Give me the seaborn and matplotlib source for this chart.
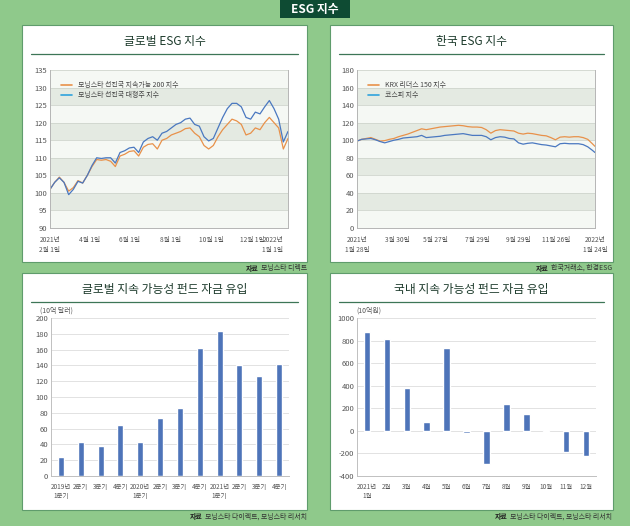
import pandas as pd
import matplotlib.pyplot as plt
from matplotlib.patches import Rectangle
from matplotlib.lines import Line2D
import seaborn as sns

W, H = 630, 526
GREEN = '#8fc98b'
DARK = '#0e4b33'
ORANGE = '#e8914a'
BLUE = '#4a78c0'
BAR = '#4e74b9'

# ---- data: global ESG index (weekly readings) ----
gl_dates = pd.date_range('2021-02-01', periods=52, freq='7D')
gl_sustain = [101.0, 103.0, 104.5, 103.0, 100.5, 101.5, 103.5, 102.8, 105.0, 107.5,
              109.5, 109.3, 109.5, 109.0, 107.5, 110.5, 111.0, 111.8, 112.0, 110.5,
              113.0, 113.8, 114.0, 112.5, 115.0, 115.5, 116.5, 117.0, 117.5, 118.3,
              118.5, 117.0, 116.0, 113.5, 112.5, 113.5, 116.0, 118.0, 119.5, 121.0,
              120.5, 119.5, 116.5, 117.0, 118.5, 118.0, 120.0, 121.5, 120.0, 118.5,
              112.5, 115.5]
gl_large = [101.0, 103.0, 104.3, 103.0, 99.5, 101.0, 103.3, 102.8, 105.0, 107.8,
            110.0, 109.8, 110.0, 110.0, 108.5, 111.5, 112.0, 112.8, 113.0, 111.5,
            114.5, 115.5, 116.0, 115.0, 117.0, 117.5, 118.5, 119.5, 120.0, 121.0,
            121.3, 119.5, 119.0, 116.0, 114.8, 115.5, 118.5, 121.5, 124.0, 125.5,
            125.5, 124.5, 121.5, 121.0, 123.0, 122.5, 124.5, 126.3, 124.0, 121.0,
            114.5, 117.5]
gl_names = ['모닝스타 선진국 지속가능 200 지수', '모닝스타 선진국 대형주 지수']

# ---- data: Korea ESG index ----
kr_dates = list(pd.date_range('2021-01-28', periods=52, freq='7D')) + [pd.Timestamp('2022-01-24')]
kr_leaders = [99, 101, 102, 103, 101, 99, 99.5, 101, 102, 104,
              105.5, 107, 109, 111, 113, 112, 113, 114, 115, 115.5,
              116, 116.5, 117, 116.5, 115.5, 115, 115, 114.5, 112, 108,
              111, 112, 111.5, 111, 110.5, 108, 107, 108, 107.5, 106.5,
              105.5, 105, 103, 100.5, 103.5, 104, 103.5, 104, 104, 103,
              101, 96, 93]
kr_kospi = [99, 101, 101.5, 102, 100.5, 98.5, 97, 98.5, 100, 101,
            102.5, 103, 103.5, 104, 105.5, 103, 103.5, 104, 104.5, 105.5,
            106, 106.5, 107, 107.5, 106.5, 105.5, 105.5, 105.5, 104, 100.5,
            103, 104, 103.5, 102, 101.5, 97, 95.5, 96.5, 97, 96,
            95, 94.5, 93.5, 92.5, 96, 96.5, 96, 96, 96, 95,
            92.5, 88.5, 86]
kr_names = ['KRX 리더스 150 지수', '코스피 지수']

# ---- data: fund flows ----
q_labels = ['2019년\n1분기', '2분기', '3분기', '4분기', '2020년\n1분기', '2분기',
            '3분기', '4분기', '2021년\n1분기', '2분기', '3분기', '4분기']
q_flows = [24, 43, 37.5, 64.5, 43, 73.5, 86.5, 162, 183, 141, 127, 142]
m_labels = ['2021년\n1월', '2월', '3월', '4월', '5월', '6월', '7월', '8월', '9월',
            '10월', '11월', '12월']
m_flows = [875, 815, 380, 80, 730, -20, -290, 235, 150, 5, -190, -225]

sns.set_theme(style='white')
plt.rcParams['font.family'] = ['Noto Sans CJK KR', 'DejaVu Sans']
plt.rcParams['axes.unicode_minus'] = False

fig = plt.figure(figsize=(W / 100, H / 100), dpi=100, facecolor=GREEN)


def rect(x0, y0, x1, y1):
    return [x0 / W, 1 - y1 / H, (x1 - x0) / W, (y1 - y0) / H]


def ftext(x, y, s, **kw):
    return fig.text(x / W, 1 - y / H, s, **kw)


# title box
fig.patches.append(Rectangle((280 / W, 1 - 18 / H), 70 / W, 18 / H, transform=fig.transFigure,
                             facecolor=DARK, edgecolor='none', zorder=-1))
ftext(315, 9.5, 'ESG 지수', ha='center', va='center', color='white', fontsize=8.5, weight='bold')

# panels
panels = [(22, 25, 307, 262, '글로벌 ESG 지수'),
          (330, 25, 613, 262, '한국 ESG 지수'),
          (22, 273, 307, 510, '글로벌 지속 가능성 펀드 자금 유입'),
          (330, 273, 613, 510, '국내 지속 가능성 펀드 자금 유입')]
for x0, y0, x1, y1, title in panels:
    fig.patches.append(Rectangle((x0 / W, 1 - y1 / H), (x1 - x0) / W, (y1 - y0) / H,
                                 transform=fig.transFigure, facecolor='white',
                                 edgecolor='#5f9c6c', linewidth=0.8, zorder=-1))
    ftext((x0 + x1) / 2, y0 + 16, title, ha='center', va='center', fontsize=8.5,
          color='#1c3a2b', weight='medium')
    fig.lines.append(Line2D([(x0 + 9) / W, (x1 - 9) / W], [1 - (y0 + 29) / H] * 2,
                            transform=fig.transFigure, color='#3d7657', linewidth=0.9))


def style_line_axes(ax, lo, hi, step):
    ax.set_facecolor('#f5f8f4')
    for i, v in enumerate(range(lo, hi, step)):
        if i % 2 == 1:
            ax.axhspan(v, v + step, color='#e4eae2', zorder=0, lw=0)
    ax.set_ylim(lo, hi)
    ax.set_yticks(range(lo, hi + 1, step))
    ax.yaxis.grid(True, color='#cfd5cd', linewidth=0.6)
    ax.set_axisbelow(True)
    for s in ['left', 'right', 'bottom']:
        ax.spines[s].set_color('#b5b5b5')
        ax.spines[s].set_linewidth(0.7)
    ax.spines['top'].set_visible(False)
    ax.tick_params(axis='y', length=0, labelsize=5.5, labelcolor='#555555', pad=2)
    ax.tick_params(axis='x', which='both', length=3, width=0.6, color='#999999',
                   labelsize=4.8, labelcolor='#555555', pad=3)
    ax.set_xlabel('')
    ax.set_ylabel('')


# ---- global ESG index ----
ax1 = fig.add_axes(rect(50, 70, 288, 228))
df1 = pd.DataFrame({'date': list(gl_dates) * 2, 'value': gl_sustain + gl_large,
                    'series': [gl_names[0]] * len(gl_dates) + [gl_names[1]] * len(gl_dates)})
sns.lineplot(data=df1, x='date', y='value', hue='series', palette=[ORANGE, BLUE],
             linewidth=0.9, legend=False, ax=ax1)
style_line_axes(ax1, 90, 135, 5)
ax1.set_xlim(pd.Timestamp('2021-02-01'), pd.Timestamp('2022-01-24'))
gl_ticks = pd.to_datetime(['2021-02-01', '2021-04-01', '2021-06-01', '2021-08-01',
                           '2021-10-01', '2021-12-01', '2022-01-01'])
ax1.set_xticks(gl_ticks)
ax1.set_xticklabels(['2021년\n2월 1일', '4월 1일', '6월 1일', '8월 1일', '10월 1일',
                     '12월 1일', '2022년\n1월 1일'], linespacing=1.3)
ax1.set_xticks(pd.to_datetime(['2021-03-01', '2021-05-01', '2021-07-01', '2021-09-01',
                               '2021-11-01', '2022-01-24']), minor=True)
ax1.legend([Line2D([], [], color=ORANGE, lw=1.2), Line2D([], [], color='#2fa3dc', lw=1.2)],
           gl_names, loc='upper left', bbox_to_anchor=(0.02, 0.97), frameon=False,
           fontsize=5, handlelength=1.6, labelspacing=0.35, labelcolor='#444444')

# ---- Korea ESG index ----
ax2 = fig.add_axes(rect(357, 70, 595, 228))
df2 = pd.DataFrame({'date': kr_dates * 2, 'value': kr_leaders + kr_kospi,
                    'series': [kr_names[0]] * len(kr_dates) + [kr_names[1]] * len(kr_dates)})
sns.lineplot(data=df2, x='date', y='value', hue='series', palette=[ORANGE, BLUE],
             linewidth=0.9, legend=False, ax=ax2)
style_line_axes(ax2, 0, 180, 20)
ax2.set_xlim(pd.Timestamp('2021-01-28'), pd.Timestamp('2022-01-24'))
kr_ticks = pd.to_datetime(['2021-01-28', '2021-03-30', '2021-05-27', '2021-07-29',
                           '2021-09-29', '2021-11-26', '2022-01-24'])
ax2.set_xticks(kr_ticks)
ax2.set_xticklabels(['2021년\n1월 28일', '3월 30일', '5월 27일', '7월 29일', '9월 29일',
                     '11월 26일', '2022년\n1월 24일'], linespacing=1.3)
ax2.set_xticks(kr_ticks[:-1] + (kr_ticks[1:] - kr_ticks[:-1]) / 2, minor=True)
ax2.legend([Line2D([], [], color=ORANGE, lw=1.2), Line2D([], [], color='#2fa3dc', lw=1.2)],
           kr_names, loc='upper left', bbox_to_anchor=(0.02, 0.97), frameon=False,
           fontsize=5, handlelength=1.6, labelspacing=0.35, labelcolor='#444444')


def style_bar_axes(ax, labels, lo, hi, step):
    ax.set_ylim(lo, hi)
    ax.set_yticks(range(lo, hi + 1, step))
    ax.set_xlim(-0.5, len(labels) - 0.5)
    ax.set_xticks(range(len(labels)))
    ax.set_xticklabels(labels, linespacing=1.2)
    ax.set_xticks([i - 0.5 for i in range(len(labels) + 1)], minor=True)
    ax.yaxis.grid(True, color='#dddddd', linewidth=0.6)
    ax.set_axisbelow(True)
    for s in ['top', 'right']:
        ax.spines[s].set_visible(False)
    for s in ['left', 'bottom']:
        ax.spines[s].set_color('#c0c0c0')
        ax.spines[s].set_linewidth(0.7)
    ax.tick_params(axis='x', which='major', length=0, labelsize=4.6, labelcolor='#555555', pad=5)
    ax.tick_params(axis='x', which='minor', length=3, width=0.6, color='#bbbbbb')
    ax.tick_params(axis='y', length=0, labelsize=5.5, labelcolor='#555555', pad=2)
    ax.set_xlabel('')
    ax.set_ylabel('')


# ---- global fund flows ----
ax3 = fig.add_axes(rect(51, 318, 289, 476))
sns.barplot(x=list(range(len(q_flows))), y=q_flows, color=BAR, saturation=1, width=0.3, ax=ax3)
style_bar_axes(ax3, q_labels, 0, 200, 20)
ftext(40, 311, '(10억 달러)', ha='left', va='center', fontsize=5, color='#555555')

# ---- domestic fund flows ----
ax4 = fig.add_axes(rect(357, 318, 596, 476))
sns.barplot(x=list(range(len(m_flows))), y=m_flows, color=BAR, saturation=1, width=0.33, ax=ax4)
style_bar_axes(ax4, m_labels, -400, 1000, 200)
ftext(356, 311, '(10억원)', ha='left', va='center', fontsize=5, color='#555555')

# ---- sources ----
renderer = fig.canvas.get_renderer()
for xr, y, rest in [(307, 268, '모닝스타 디렉트'),
                    (612, 268, '한국거래소, 한경ESG'),
                    (307, 517, '모닝스타 다이렉트, 모닝스타 리서치'),
                    (612, 517, '모닝스타 다이렉트, 모닝스타 리서치')]:
    t = ftext(xr, y, rest, ha='right', va='center', fontsize=5, color='#333333')
    bb = t.get_window_extent(renderer)
    ftext(bb.x0 - 2, y, '자료', ha='right', va='center', fontsize=5, color='#222222', weight='bold')

fig.savefig('out.png', dpi=100, facecolor=GREEN)
